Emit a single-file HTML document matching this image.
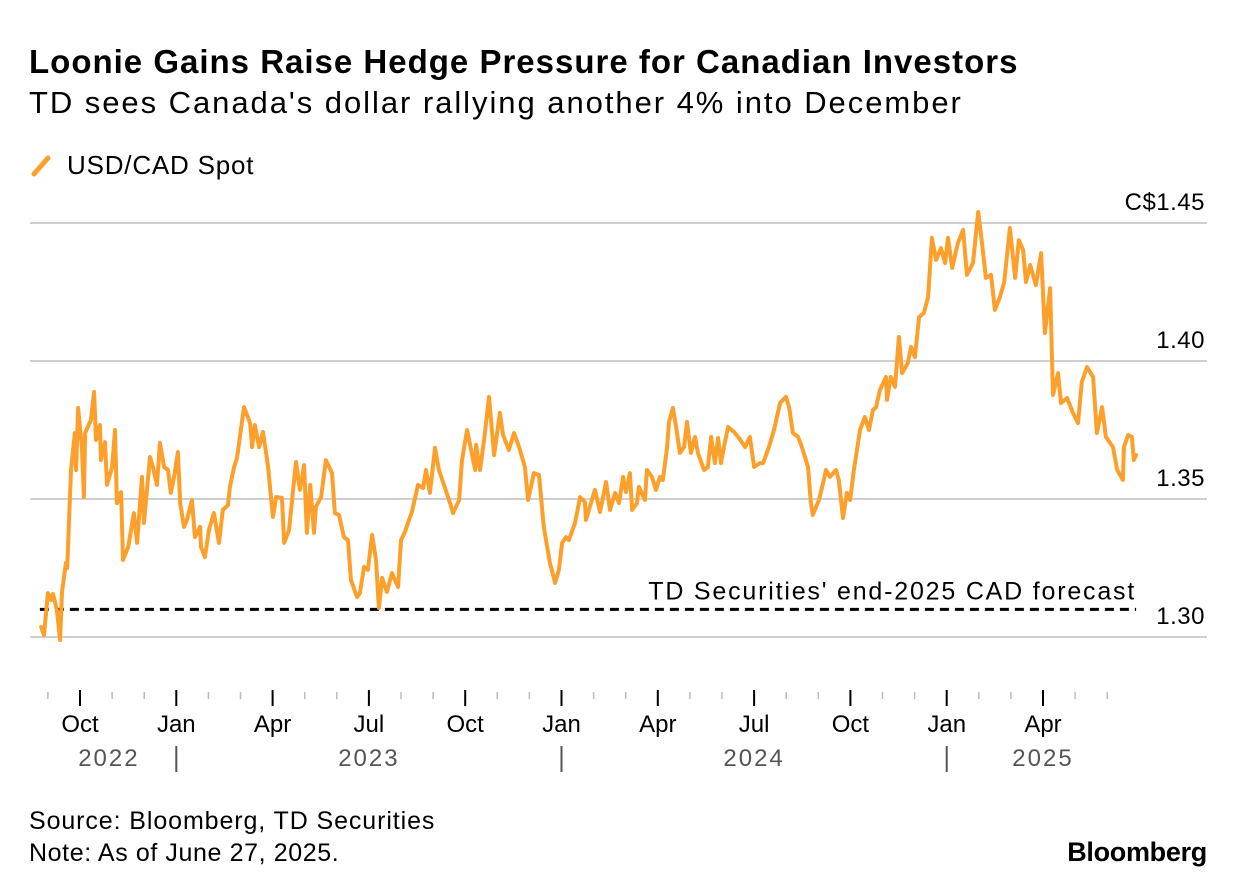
<!DOCTYPE html>
<html><head><meta charset="utf-8"><style>
body{margin:0;background:#fff;width:1237px;height:894px;overflow:hidden;font-family:"Liberation Sans",sans-serif;}
.t{position:absolute;white-space:nowrap;color:#000;}
</style></head><body>
<div class="t" style="left:29px;top:43px;font-size:33px;font-weight:bold;letter-spacing:1.0px">Loonie Gains Raise Hedge Pressure for Canadian Investors</div>
<div class="t" style="left:29px;top:85px;font-size:31px;letter-spacing:1.95px">TD sees Canada's dollar rallying another 4% into December</div>
<div style="position:absolute;left:30px;top:150px;height:30px;width:260px">
 <svg width="24" height="30" style="position:absolute;left:0;top:0"><line x1="4" y1="24" x2="18" y2="8" stroke="#fd9f2b" stroke-width="5" stroke-linecap="round"/></svg>
 <span class="t" style="left:37px;top:0px;font-size:26px;letter-spacing:0.8px">USD/CAD Spot</span>
</div>
<svg id="chart" width="1237" height="894" style="position:absolute;left:0;top:0"></svg>
<div class="t" style="left:29px;top:807px;font-size:25px;letter-spacing:0.9px">Source: Bloomberg, TD Securities</div>
<div class="t" style="left:29px;top:839px;font-size:25px;letter-spacing:0.6px">Note: As of June 27, 2025.</div>
<div class="t" style="right:30px;top:837px;font-size:27px;font-weight:bold;letter-spacing:-0.3px">Bloomberg</div>
<script>
// months since Oct 1 2022 (fractional) and USD/CAD values
const months=[-1.21,-1.12,-1.00,-0.90,-0.84,-0.72,-0.62,-0.56,-0.44,-0.40,-0.28,-0.16,-0.12,-0.06,0.06,0.12,0.16,0.34,0.44,0.50,0.62,0.65,0.78,0.84,1.00,1.09,1.15,1.28,1.34,1.50,1.68,1.78,1.93,1.99,2.18,2.27,2.40,2.49,2.62,2.74,2.83,2.93,3.05,3.12,3.24,3.33,3.49,3.58,3.74,3.77,3.89,4.02,4.17,4.33,4.45,4.61,4.67,4.80,4.89,5.11,5.30,5.36,5.45,5.58,5.70,5.86,6.01,6.11,6.29,6.36,6.51,6.64,6.73,6.85,6.98,7.07,7.17,7.29,7.35,7.51,7.66,7.85,7.94,8.07,8.22,8.35,8.44,8.63,8.72,8.85,8.97,9.10,9.22,9.31,9.41,9.56,9.72,9.91,10.00,10.12,10.25,10.34,10.53,10.69,10.78,10.90,11.06,11.18,11.34,11.53,11.62,11.81,11.90,12.06,12.31,12.34,12.46,12.59,12.74,12.90,13.08,13.18,13.36,13.52,13.68,13.86,13.96,14.14,14.30,14.45,14.64,14.80,14.92,15.02,15.14,15.23,15.42,15.58,15.73,15.76,16.04,16.20,16.39,16.51,16.67,16.79,16.92,17.01,17.13,17.20,17.35,17.41,17.60,17.66,17.82,17.94,18.07,18.16,18.29,18.35,18.47,18.57,18.69,18.82,18.91,19.03,19.16,19.25,19.44,19.56,19.66,19.78,19.88,19.97,20.06,20.19,20.37,20.53,20.72,20.87,21.00,21.18,21.28,21.46,21.62,21.81,21.99,22.09,22.21,22.37,22.49,22.68,22.77,22.83,23.02,23.15,23.24,23.36,23.55,23.64,23.77,23.89,23.99,24.11,24.30,24.45,24.58,24.70,24.80,24.92,25.11,25.14,25.26,25.39,25.51,25.61,25.79,25.89,26.01,26.14,26.29,26.42,26.54,26.67,26.82,26.95,27.04,27.17,27.35,27.51,27.63,27.82,27.98,28.10,28.22,28.38,28.50,28.66,28.79,28.97,29.13,29.25,29.38,29.47,29.60,29.78,29.94,30.06,30.22,30.31,30.47,30.56,30.75,30.93,31.09,31.21,31.37,31.56,31.68,31.84,31.96,32.18,32.31,32.49,32.52,32.65,32.77,32.83,32.90];
const values=[1.3036,1.3007,1.3159,1.3134,1.3156,1.3098,1.2989,1.3163,1.3268,1.3250,1.3605,1.3739,1.3605,1.3830,1.3688,1.3507,1.3739,1.3786,1.3888,1.3714,1.3768,1.3641,1.3706,1.3551,1.3616,1.3750,1.3485,1.3525,1.3279,1.3326,1.3449,1.3341,1.3580,1.3413,1.3652,1.3616,1.3551,1.3703,1.3616,1.3605,1.3522,1.3580,1.3670,1.3485,1.3399,1.3424,1.3496,1.3362,1.3399,1.3326,1.3290,1.3388,1.3449,1.3341,1.3460,1.3478,1.3544,1.3616,1.3649,1.3833,1.3775,1.3688,1.3768,1.3688,1.3743,1.3616,1.3435,1.3507,1.3504,1.3341,1.3388,1.3533,1.3634,1.3533,1.3623,1.3377,1.3551,1.3377,1.3471,1.3507,1.3641,1.3594,1.3449,1.3442,1.3362,1.3351,1.3207,1.3145,1.3159,1.3254,1.3243,1.3370,1.3279,1.3105,1.3214,1.3163,1.3232,1.3181,1.3351,1.3380,1.3424,1.3453,1.3551,1.3540,1.3605,1.3522,1.3685,1.3605,1.3551,1.3485,1.3449,1.3496,1.3641,1.3750,1.3605,1.3696,1.3605,1.3714,1.3870,1.3659,1.3812,1.3732,1.3677,1.3739,1.3688,1.3616,1.3496,1.3594,1.3587,1.3399,1.3268,1.3196,1.3243,1.3341,1.3362,1.3351,1.3413,1.3507,1.3489,1.3424,1.3533,1.3453,1.3562,1.3460,1.3522,1.3485,1.3580,1.3525,1.3594,1.3460,1.3485,1.3544,1.3496,1.3605,1.3580,1.3533,1.3580,1.3569,1.3688,1.3779,1.3830,1.3761,1.3667,1.3688,1.3779,1.3667,1.3725,1.3667,1.3605,1.3616,1.3725,1.3630,1.3721,1.3630,1.3688,1.3761,1.3743,1.3721,1.3688,1.3725,1.3616,1.3630,1.3630,1.3688,1.3750,1.3848,1.3870,1.3833,1.3739,1.3725,1.3688,1.3616,1.3485,1.3442,1.3496,1.3558,1.3605,1.3580,1.3605,1.3569,1.3431,1.3522,1.3496,1.3605,1.3750,1.3797,1.3750,1.3822,1.3833,1.3895,1.3942,1.3859,1.3942,1.3906,1.4087,1.3956,1.3993,1.4051,1.4014,1.4159,1.4174,1.4232,1.4446,1.4366,1.4409,1.4355,1.4446,1.4337,1.4427,1.4475,1.4312,1.4355,1.4540,1.4427,1.4301,1.4312,1.4185,1.4232,1.4286,1.4482,1.4301,1.4438,1.4402,1.4286,1.4348,1.4275,1.4391,1.4101,1.4264,1.3877,1.3956,1.3848,1.3866,1.3812,1.3775,1.3924,1.3978,1.3942,1.3739,1.3833,1.3725,1.3688,1.3605,1.3569,1.3688,1.3732,1.3725,1.3641,1.3659];
const forecast=1.31;
const forecastRange=[-1.25,32.9];
const yTicks=[1.30,1.35,1.40,1.45];
const yTickLabels=["1.30","1.35","1.40","C$1.45"];
const monthLabels=["Oct","Jan","Apr","Jul","Oct","Jan","Apr","Jul","Oct","Jan","Apr"];
const monthLabelPos=[0,3,6,9,12,15,18,21,24,27,30];
const yearLabels=["2022","2023","2024","2025"];
const yearLabelPos=[0.9,9.0,21.0,30.0];
const yearSeps=[3,15,27];

const svg=document.getElementById('chart');
const NS='http://www.w3.org/2000/svg';
const X=m=>80+m*32.1;
const Y=v=>637-(v-1.30)*2760;
function mk(tag,attrs,parent){const e=document.createElementNS(NS,tag);for(const k in attrs)e.setAttribute(k,attrs[k]);(parent||svg).appendChild(e);return e;}

yTicks.forEach((t,i)=>{
 const g=mk('line',{x1:30,x2:1207,y1:Y(t),y2:Y(t),stroke:'#cfcfcf','stroke-width':2});
 
 
 const tx=mk('text',{x:1205,y:Y(t)-13,'text-anchor':'end','font-size':24,fill:'#000','font-family':'Liberation Sans, sans-serif','letter-spacing':0.5});
 tx.textContent=yTickLabels[i];
 
 
});
for(let m=-1;m<=32;m++){
 const major=(m%3===0);
 const t=mk('line',{x1:X(m),x2:X(m),y1:major?690:692,y2:major?706:699,stroke:major?'#000':'#bbb','stroke-width':major?2:1.5});
 
 
}
monthLabels.forEach((l,i)=>{
 const t=mk('text',{x:X(monthLabelPos[i]),y:732,'text-anchor':'middle','font-size':24,fill:'#000','font-family':'Liberation Sans, sans-serif'});
 t.textContent=l;
 
 
});
yearLabels.forEach((l,i)=>{
 const t=mk('text',{x:X(yearLabelPos[i]),y:766,'text-anchor':'middle','font-size':24,fill:'#555','font-family':'Liberation Sans, sans-serif','letter-spacing':2});
 t.textContent=l;
 
 
});
yearSeps.forEach(m=>{
 const s=mk('line',{x1:X(m),x2:X(m),y1:746,y2:772,stroke:'#555','stroke-width':2});
 
 
});
const fl=mk('line',{x1:X(forecastRange[0]),x2:X(forecastRange[1]),y1:Y(forecast),y2:Y(forecast),stroke:'#000','stroke-width':3,'stroke-dasharray':'9 6'});


const ft=mk('text',{x:X(forecastRange[1]),y:Y(forecast)-10,'text-anchor':'end','font-size':25,fill:'#000','font-family':'Liberation Sans, sans-serif','letter-spacing':1.8});
ft.textContent="TD Securities' end-2025 CAD forecast";


const d=months.map((m,i)=>(i?'L':'M')+X(m).toFixed(1)+' '+Y(values[i]).toFixed(1)).join(' ');
const p=mk('path',{d:d,fill:'none',stroke:'#fd9f2b','stroke-width':4,'stroke-linejoin':'round','stroke-linecap':'round'});


</script>
</body></html>
